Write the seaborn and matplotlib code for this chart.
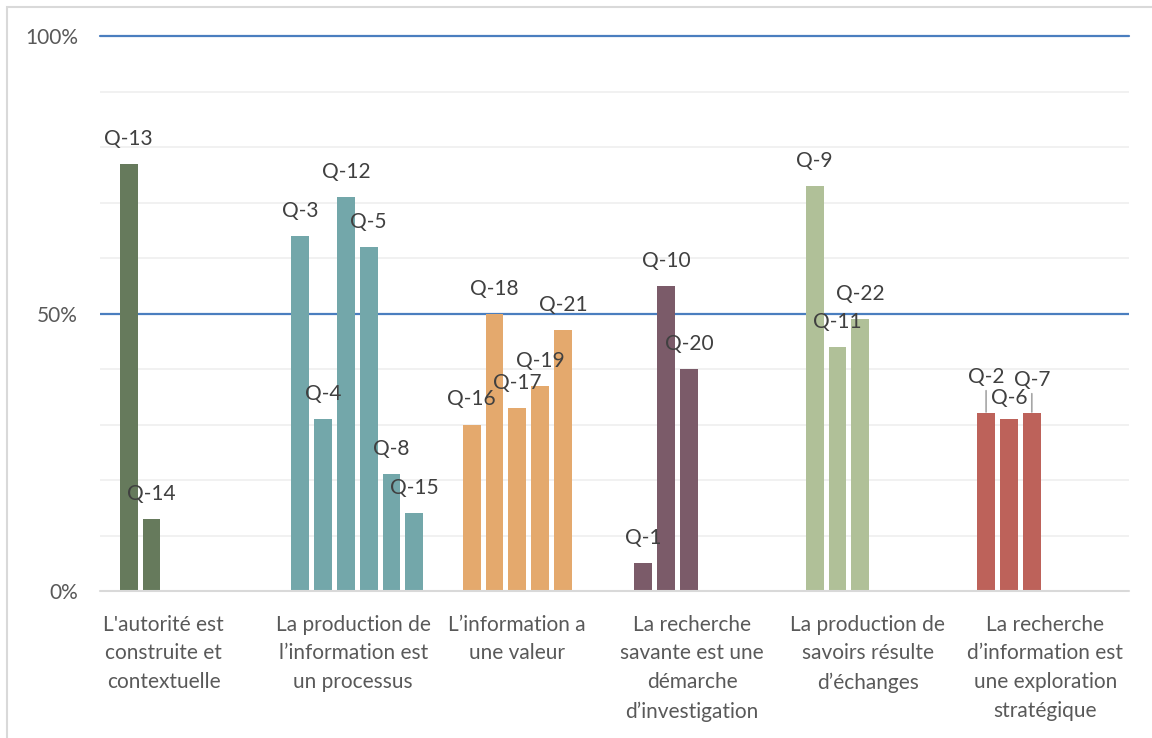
import matplotlib.pyplot as plt
import matplotlib.patches as mpatches
import matplotlib.transforms as mtrans
import numpy as np
import pandas as pd
import seaborn as sns

# data
categories = ["L'autorité est\nconstruite et\ncontextuelle",
              "La production de\nl’information est\nun processus",
              "L’information a\nune valeur",
              "La recherche\nsavante est une\ndémarche\nd’investigation",
              "La production de\nsavoirs résulte\nd’échanges",
              "La recherche\nd’information est\nune exploration\nstratégique"]
questions = [["Q-13", "Q-14"],
             ["Q-3", "Q-4", "Q-12", "Q-5", "Q-8", "Q-15"],
             ["Q-16", "Q-18", "Q-17", "Q-19", "Q-21"],
             ["Q-1", "Q-10", "Q-20"],
             ["Q-9", "Q-11", "Q-22"],
             ["Q-2", "Q-6", "Q-7"]]
values = [[77, 13],
          [64, 31, 71, 62, 21, 14],
          [30, 50, 33, 37, 47],
          [5, 55, 40],
          [73, 44, 49],
          [32, 31, 32]]
colors = ["#667A5C", "#73A7AA", "#E4A96D", "#7B5B69", "#B0C098", "#BD625A"]

rows = []
for ci, cat in enumerate(categories):
    for si, (q, v) in enumerate(zip(questions[ci], values[ci])):
        rows.append({"cat": cat, "slot": si, "value": v, "label": q, "ci": ci})
df = pd.DataFrame(rows)

sns.set_style("white")
plt.rcParams['font.family'] = ['Lato', 'DejaVu Sans']

fig = plt.figure(figsize=(11.52, 7.38), dpi=100)
ax = fig.add_axes([100/1152, 1-591/738, 1029/1152, 555/738])

sns.barplot(data=df, x="cat", y="value", hue="slot", hue_order=range(6),
            order=categories, dodge=True, width=0.8, gap=0.22,
            legend=False, ax=ax, errorbar=None, saturation=1)

# recolour bars by category and add labels
bar_list = []
for p in ax.patches:
    if p.get_height() == 0 or np.isnan(p.get_height()):
        continue
    bar_list.append(p)
bar_list.sort(key=lambda p: p.get_x())
lab_list = df.sort_values(["ci", "slot"]).to_dict("records")
# pixel offsets of labels above bar tops
lift = {"Q-2": 36, "Q-6": 21, "Q-7": 33}
for p, r in zip(bar_list, lab_list):
    p.set_facecolor(colors[r["ci"]])
    p.set_edgecolor("none")
    cx = p.get_x() + p.get_width()/2
    top = p.get_height()
    dy = lift.get(r["label"], 25) * 0.72
    if r["label"] in ("Q-2", "Q-7"):
        ax.annotate(r["label"], (cx, top), xytext=(0, dy), textcoords="offset points",
                    ha="center", va="center", fontsize=15, color="#404040",
                    arrowprops=dict(arrowstyle="-", color="#A6A6A6", lw=1.2,
                                    shrinkA=0, shrinkB=1))
    else:
        ax.annotate(r["label"], (cx, top), xytext=(0, dy), textcoords="offset points",
                    ha="center", va="center", fontsize=15, color="#404040")

ax.set_ylim(0, 100)
ax.set_xlim(-0.5, 5.5)
ax.set_yticks([0, 50, 100])
ax.set_yticklabels(["0%", "50%", "100%"])
for y in range(10, 100, 10):
    if y != 50:
        ax.axhline(y, color="#F0F0F0", lw=1.3, zorder=0)
ax.axhline(50, color="#4A7EBF", lw=1.6, zorder=0)
ax.axhline(100, color="#4A7EBF", lw=1.6, zorder=0, clip_on=False)
ax.axhline(0, color="#D9D9D9", lw=1.5, zorder=3, clip_on=False)
for s in ax.spines.values():
    s.set_visible(False)
ax.tick_params(axis="y", length=0, pad=16, labelsize=15, labelcolor="#595959")
ax.tick_params(axis="x", length=0, pad=17, labelsize=15, labelcolor="#595959")
# small horizontal nudges of category labels (pixels), as in the reference
shift_px = [-22, -4, -12, -8, -4, 2]
for t, dx in zip(ax.get_xticklabels(), shift_px):
    t.set_linespacing(1.55)
    t.set_va("top")
    t.set_transform(t.get_transform() + mtrans.ScaledTranslation(dx/100, 0, fig.dpi_scale_trans))
ax.set_xlabel("")
ax.set_ylabel("")

# chart frame (left and top edges visible)
fig.patches.append(mpatches.Rectangle((7/1152, -0.05), 1.1, 1-7/738+0.05,
                                      transform=fig.transFigure, fill=False,
                                      edgecolor="#D9D9D9", lw=1.5))

fig.savefig("out.png", dpi=100)
